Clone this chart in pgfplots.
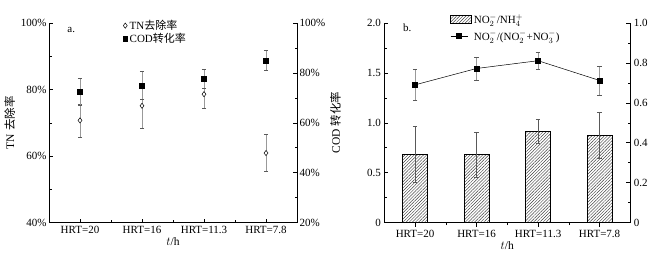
\documentclass[border=0pt]{standalone}
\usepackage{pgfplots}
\pgfplotsset{compat=1.18}
\usepackage{fontspec}
\setmainfont{Liberation Serif}
\newfontfamily\cjk{Noto Sans CJK SC}
\usetikzlibrary{patterns.meta}

\pgfplotsset{
  base/.style={
    scale only axis, height=199.5pt,
    xmin=-0.5, xmax=3.5,
    every tick/.style={black, line width=0.5pt},
    axis line style={line width=0.6pt},
    tick label style={font=\fontsize{11}{13}\selectfont},
    label style={font=\fontsize{11.5}{13}\selectfont},
    /pgf/number format/assume math mode=true,
  },
  ebar/.style={
    error bars/.cd, y dir=both, y explicit,
    error bar style={gray!80, line width=0.8pt},
    error mark options={rotate=90, mark size=2.2pt, gray!70!black, line width=0.6pt},
  },
  hatchlegend/.style={
    legend image code/.code={\draw[##1] (0pt,-4pt) rectangle (21pt,4pt);}
  },
}

\begin{document}
\begin{tikzpicture}
\path[use as bounding box] (0pt,0pt) rectangle (668pt,258pt);

% ---------------- panel a ----------------
\begin{axis}[base, width=248pt, at={(49pt,35.5pt)}, anchor=south west,
  axis x line*=bottom, axis y line*=left,
  tick align=inside, major tick length=4pt, minor tick length=2.5pt,
  ymin=40, ymax=100, ytick={40,60,80,100},
  yticklabels={40\%,60\%,80\%,100\%}, minor y tick num=1,
  xtick={0,1,2,3}, xticklabels={{HRT=20},{HRT=16},{HRT=11.3},{HRT=7.8}},
  minor x tick num=1,
  yticklabel style={xshift=1pt},
  xlabel={$t$/h}, xlabel style={yshift=3pt},
  ylabel={TN {\cjk 去除率}}, ylabel style={yshift=-1pt},
]
\addplot[only marks, mark=diamond*, mark size=2.6pt, mark options={fill=white, draw=black, line width=0.5pt}, ebar]
  coordinates {(0,70.7) +- (0,5.0) (1,75.1) +- (0,6.7) (2,78.6) +- (0,4.4) (3,60.9) +- (0,5.6)};
\node[anchor=west, font=\fontsize{11}{13}\selectfont] at (rel axis cs:0.06,0.965) {a.};
\end{axis}

\begin{axis}[base, width=248pt, at={(49pt,35.5pt)}, anchor=south west,
  axis x line=none, axis y line*=right,
  tick align=inside, major tick length=4pt, minor tick length=2.5pt,
  ymin=20, ymax=100, ytick={20,40,60,80,100},
  yticklabels={20\%,40\%,60\%,80\%,100\%}, minor y tick num=1,
  yticklabel style={xshift=-1pt},
  ylabel={COD {\cjk 转化率}}, ylabel style={yshift=2pt},
  legend style={draw=none, fill=none, at={(0.285,1.035)}, anchor=north west,
    font=\fontsize{11}{13}\selectfont, row sep=-2pt,
    /tikz/every even column/.append style={column sep=2pt}},
  legend cell align=left,
]
\addlegendimage{only marks, mark=diamond*, mark size=2.6pt, mark options={fill=white, draw=black, line width=0.5pt}}
\addlegendentry{TN{\cjk 去除率}}
\addplot[only marks, mark=square*, mark size=2.4pt, black, ebar]
  coordinates {(0,72.5) +- (0,5.4) (1,74.9) +- (0,5.6) (2,77.7) +- (0,3.8) (3,84.9) +- (0,4.0)};
\addlegendentry{COD{\cjk 转化率}}
\end{axis}

% ---------------- panel b ----------------
\begin{axis}[base, width=246pt, at={(384.3pt,35.5pt)}, anchor=south west,
  axis x line*=bottom, axis y line*=left,
  tick align=inside, major tick length=4pt, minor tick length=2.5pt,
  ymin=0, ymax=2, ytick={0,0.5,1,1.5,2},
  yticklabels={0,0.5,1.0,1.5,2.0}, minor y tick num=1,
  xtick={0,1,2,3}, xticklabels={{HRT=20},{HRT=16},{HRT=11.3},{HRT=7.8}},
  minor x tick num=1,
  xlabel={$t$/h}, xlabel style={yshift=3pt},
  ybar, bar width=25pt,
]
\addplot[draw=black, line width=0.6pt, fill=white,
  pattern={Lines[angle=45, distance=2.2pt, line width=0.45pt]}, pattern color=black!75,
  error bars/.cd, y dir=both, y explicit,
  error bar style={gray!70!black, line width=0.7pt},
  error mark options={rotate=90, mark size=2.2pt, gray!70!black, line width=0.6pt}]
  coordinates {(0,0.68) +- (0,0.28) (1,0.68) +- (0,0.226) (2,0.913) +- (0,0.117) (3,0.873) +- (0,0.23)};
\node[anchor=west, font=\fontsize{11}{13}\selectfont] at (rel axis cs:0.062,0.975) {b.};
\end{axis}

\begin{axis}[base, width=246pt, at={(384.3pt,35.5pt)}, anchor=south west,
  axis x line=none, axis y line*=right,
  tick align=inside, major tick length=4pt, minor tick length=2.5pt,
  ymin=0, ymax=1, ytick={0,0.2,0.4,0.6,0.8,1},
  yticklabels={0,0.2,0.4,0.6,0.8,1.0}, minor y tick num=1,
  legend style={draw=none, fill=none, at={(0.255,1.065)}, anchor=north west,
    font=\fontsize{11}{13}\selectfont, row sep=1.5pt,
    /tikz/every even column/.append style={column sep=2pt}},
  legend cell align=left,
]
\addlegendimage{hatchlegend, draw=black, line width=0.6pt,
  pattern={Lines[angle=45, distance=2.2pt, line width=0.45pt]}, pattern color=black!75}
\addlegendentry{NO$_2^-$/NH$_4^+$}
\addplot[black, line width=0.5pt, mark=square*, mark size=2.4pt, ebar]
  coordinates {(0,0.69) +- (0,0.076) (1,0.772) +- (0,0.057) (2,0.811) +- (0,0.042) (3,0.712) +- (0,0.072)};
\addlegendentry{NO$_2^-$/(NO$_2^-$+NO$_3^-$)}
\end{axis}
\end{tikzpicture}
\end{document}
